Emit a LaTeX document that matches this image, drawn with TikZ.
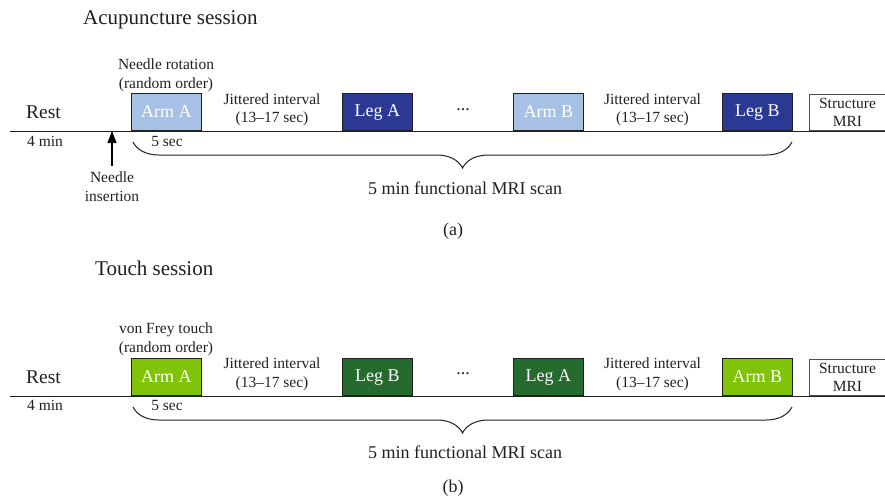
\documentclass[tikz,border=0pt]{standalone}
\usepackage{fontspec}
\setmainfont{Liberation Serif}
\usetikzlibrary{positioning,arrows.meta,decorations.pathreplacing}
\definecolor{armblue}{RGB}{166,193,229}
\definecolor{legblue}{RGB}{43,57,148}
\definecolor{armgreen}{RGB}{128,196,10}
\definecolor{leggreen}{RGB}{36,107,45}
\definecolor{ink}{RGB}{35,31,32}

\begin{document}
\begin{tikzpicture}[
		x=1pt,y=-1pt,
		every node/.style={text=ink},
		title/.style={font=\fontsize{21}{24}\selectfont,inner sep=0pt,anchor=west},
		big/.style={font=\fontsize{18}{21}\selectfont,inner sep=0pt},
		rest/.style={font=\fontsize{19.5}{22}\selectfont,inner sep=0pt},
		small/.style={font=\fontsize{15.5}{18.5}\selectfont,align=center,inner sep=0pt},
		trial/.style={draw=ink,line width=0.9pt,minimum width=70pt,minimum height=37pt,anchor=south west,inner sep=0pt,font=\fontsize{18}{21}\selectfont,text=white},
		mri/.style={draw=ink!80,fill=white,line width=1pt,minimum width=76pt,minimum height=36pt,anchor=south west,inner sep=0pt,align=center,font=\fontsize{15.5}{18.5}\selectfont},
		timeline/.style={draw=ink,line width=1pt},
		brace/.style={draw=ink,line width=1pt,decorate,decoration={brace,mirror,amplitude=26pt}}
		]
		\useasboundingbox (0,0) rectangle (885,498);
		\node[title] (atitle) at (83,20) {Acupuncture session};
		\coordinate (astart) at (10,131);
		\coordinate (aend) at (885,131);
		\draw[timeline] (astart) -- (aend);
		\node[rest] (arest) at (43.5,112) {Rest};
		\node[small] (amin) at (45,141) {4 min};
		\node[trial,fill=armblue] (aarma) at (131,131) {Arm A};
		\node[small] (arot) at (166,75.5) {Needle rotation\\(random order)};
		\node[small] (ajit1) at (272,110) {Jittered interval\\(13--17 sec)};
		\node[trial,fill=legblue] (alega) at (342,131) {Leg A};
		\node[big] (adots) at (463,110) {...};
		\node[trial,fill=armblue] (aarmb) at (513,131) {Arm B};
		\node[small] (ajit2) at (652.5,110) {Jittered interval\\(13--17 sec)};
		\node[trial,fill=legblue] (alegb) at (722,131) {Leg B};
		\node[mri] (amri) at (809,131) {Structure\\MRI};
		\node[small] (asec) at (167,141) {5 sec};
		\node[small] (ains) at (112,186.5) {Needle\\insertion};
		\coordinate (atip) at (112,131);
		\draw[line width=1.2pt,-{Triangle[length=12pt,width=9pt]},shorten <=6pt] (ains.north) -- (atip);
		\coordinate (abl) at (133,142);
		\coordinate (abr) at (792,142);
		\draw[brace] (abl) -- (abr);
		\node[big] (ascan) at (465,188) {5 min functional MRI scan};
		\node[big] (alabel) at (453,231) {(a)};
		\node[title] (btitle) at (95,268) {Touch session};
		\coordinate (bstart) at (10,396);
		\coordinate (bend) at (885,396);
		\draw[timeline] (bstart) -- (bend);
		\node[rest] (brest) at (43.5,377) {Rest};
		\node[small] (bmin) at (45,405) {4 min};
		\node[trial,fill=armgreen] (barma) at (131,396) {Arm A};
		\node[small] (bfrey) at (166,339.5) {von Frey touch\\(random order)};
		\node[small] (bjit1) at (272,374.5) {Jittered interval\\(13--17 sec)};
		\node[trial,fill=leggreen] (blegb) at (342,396) {Leg B};
		\node[big] (bdots) at (463,374) {...};
		\node[trial,fill=leggreen] (blega) at (513,396) {Leg A};
		\node[small] (bjit2) at (652.5,374.5) {Jittered interval\\(13--17 sec)};
		\node[trial,fill=armgreen] (barmb) at (722,396) {Arm B};
		\node[mri] (bmri) at (809,396) {Structure\\MRI};
		\node[small] (bsec) at (167,405) {5 sec};
		\coordinate (bbl) at (133,407);
		\coordinate (bbr) at (792,407);
		\draw[brace] (bbl) -- (bbr);
		\node[big] (bscan) at (465,452) {5 min functional MRI scan};
		\node[big] (blabel) at (453,488) {(b)};
\end{tikzpicture}
\end{document}
